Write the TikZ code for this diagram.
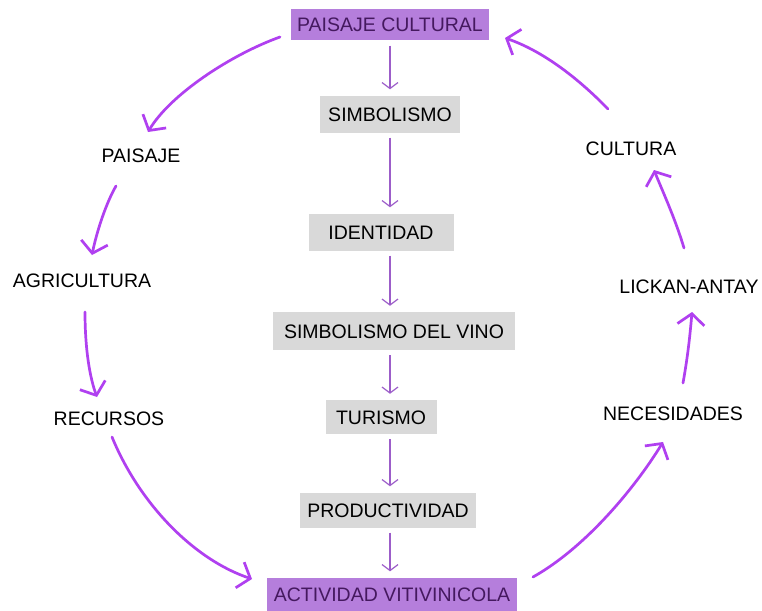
\documentclass[tikz,border=0pt]{standalone}
\usepackage{fontspec}
\setmainfont{Liberation Sans}
\usetikzlibrary{arrows.meta}
\definecolor{boxpurple}{HTML}{B57EDC}
\definecolor{textpurple}{HTML}{45195F}
\definecolor{arcpurple}{HTML}{B040F0}
\definecolor{thinpurple}{HTML}{9C5DC9}
\definecolor{boxgray}{HTML}{D9D9D9}
\tikzset{
  lbl/.style={font=\fontsize{19.5}{22}\selectfont, text height=14pt, text depth=0pt, inner sep=0pt},
  graybox/.style={lbl, fill=boxgray, text=black, align=center},
  purplebox/.style={lbl, fill=boxpurple, text=textpurple, align=center},
  plain/.style={lbl, text=black},
  arc/.style={draw=arcpurple, line width=2.7pt, line cap=round, -{Straight Barb[length=11pt,width=27pt,line width=2.7pt]}},
  thinarrow/.style={draw=thinpurple, line width=1.2pt, shorten <=5pt, shorten >=6pt, -{Straight Barb[length=6pt,width=16pt,line width=1.2pt]}}
}
\begin{document}
\begin{tikzpicture}[x=1pt,y=-1pt]
\useasboundingbox (0,0) rectangle (762,610);
\fill[white] (0,0) rectangle (762,610);
% central column
\node[purplebox, minimum width=198pt, minimum height=31pt] (pc) at (390,25) {PAISAJE CULTURAL};
\node[graybox, minimum width=140pt, minimum height=37pt] (sim) at (390,114) {SIMBOLISMO};
\node[graybox, minimum width=145pt, minimum height=37pt] (id) at (381,232) {IDENTIDAD};
\node[graybox, minimum width=242pt, minimum height=38pt] (sdv) at (394,331) {SIMBOLISMO DEL VINO};
\node[graybox, minimum width=111pt, minimum height=34pt] (tur) at (381,417) {TURISMO};
\node[graybox, minimum width=176pt, minimum height=35pt] (prod) at (388,510) {PRODUCTIVIDAD};
\node[purplebox, minimum width=250pt, minimum height=33pt] (act) at (392,594) {ACTIVIDAD VITIVINICOLA};
% ring
\node[plain] (pais) at (141,155) {PAISAJE};
\node[plain] (agri) at (82,280) {AGRICULTURA};
\node[plain] (rec) at (109,418) {RECURSOS};
\node[plain] (nec) at (673,413) {NECESIDADES};
\node[plain] (lick) at (689,286) {LICKAN-ANTAY};
\node[plain] (cult) at (631,148) {CULTURA};
\coordinate (ax) at (390,0);
% central arrows
\draw[thinarrow] (pc.south -| ax) -- (sim.north -| ax);
\draw[thinarrow] (sim.south -| ax) -- (id.north -| ax);
\draw[thinarrow] (id.south -| ax) -- (sdv.north -| ax);
\draw[thinarrow] (sdv.south -| ax) -- (tur.north -| ax);
\draw[thinarrow] (tur.south -| ax) -- (prod.north -| ax);
\draw[thinarrow] (prod.south -| ax) -- (act.north -| ax);
% curved arrows
\draw[arc] ([shift={(-110,12)}]pc.center) .. controls +(-50,18) and +(22,-37) .. ([shift={(7,-23)}]pais.center);
\draw[arc] ([shift={(-25,31)}]pais.center) .. controls +(-11,19) and +(4,-20) .. ([shift={(10,-25)}]agri.center);
\draw[arc] ([shift={(3,32)}]agri.center) .. controls +(0,38) and +(-7,-19) .. ([shift={(-12,-21)}]rec.center);
\draw[arc] ([shift={(3,19)}]rec.center) .. controls +(28,68) and +(-57,-19) .. ([shift={(-140,-15)}]act.center);
\draw[arc] ([shift={(141,-17)}]act.center) .. controls +(57,-32) and +(-23,38) .. ([shift={(-10,29)}]nec.center);
\draw[arc] ([shift={(10,-30)}]nec.center) .. controls +(5,-28) and +(-2,23) .. ([shift={(3,26)}]lick.center);
\draw[arc] ([shift={(-5,-38)}]lick.center) .. controls +(-9,-30) and +(8,20) .. ([shift={(23,22)}]cult.center);
\draw[arc] ([shift={(-23,-39)}]cult.center) .. controls +(-33,-34) and +(35,12) .. ([shift={(115,13)}]pc.center);
\end{tikzpicture}
\end{document}
